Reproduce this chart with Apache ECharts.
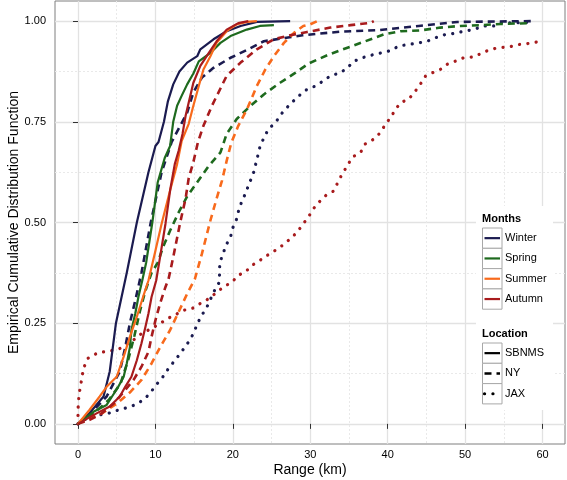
<!DOCTYPE html>
<html><head><meta charset="utf-8">
<script src="https://cdn.jsdelivr.net/npm/echarts@6/dist/echarts.min.js"></script>
<style>html,body{margin:0;padding:0;background:#fff}#c{width:567px;height:480px}</style>
</head><body><div id="c"></div>
<script>
// ---------- DATA ----------
const months = ['Winter', 'Spring', 'Summer', 'Autumn'];
const locations = ['SBNMS', 'NY', 'JAX'];
const xTicks = [0, 10, 20, 30, 40, 50, 60];
const xMinorTicks = [5, 15, 25, 35, 45, 55];
const yTicks = [0, 0.25, 0.5, 0.75, 1];
const yMinorTicks = [0.125, 0.375, 0.625, 0.875];
const yTickLabels = ['0.00', '0.25', '0.50', '0.75', '1.00'];

// [range km, ECDF]
const winterSBNMS = [[0,0],[1.5,0.027],[3.3,0.068],[4.1,0.13],[4.9,0.25],[6.3,0.375],[7.6,0.5],[9.1,0.625],[10,0.69],[10.4,0.70],[11.1,0.75],[11.6,0.80],[12.3,0.843],[13.1,0.875],[14.1,0.897],[15.4,0.913],[15.8,0.93],[17.5,0.955],[19.2,0.975],[21,0.988],[23.1,0.998],[27.4,1.0]];
const springSBNMS = [[0,0],[2,0.03],[3.7,0.047],[4.4,0.068],[5.2,0.092],[5.9,0.117],[6.3,0.15],[6.7,0.19],[6.9,0.233],[7.4,0.274],[7.8,0.315],[8.3,0.356],[8.8,0.4],[9.6,0.5],[10.3,0.6],[11.2,0.66],[11.9,0.69],[12.3,0.75],[12.8,0.79],[13.4,0.815],[14.1,0.843],[14.9,0.87],[15.6,0.9],[17.1,0.921],[18.4,0.946],[19.7,0.963],[21.8,0.979],[23.5,0.988],[25.3,0.99]];
const summerSBNMS = [[0,0],[1.5,0.035],[2.8,0.068],[3.7,0.092],[5,0.117],[5.9,0.167],[6.7,0.216],[7.6,0.266],[8.4,0.315],[9.1,0.356],[10,0.43],[10.8,0.497],[11.9,0.58],[12.8,0.645],[13.4,0.703],[14.3,0.745],[14.9,0.79],[15.6,0.839],[16.2,0.88],[17.1,0.913],[17.9,0.946],[19.2,0.975],[20.5,0.992],[21.8,0.998],[23.1,1.0]];
const autumnSBNMS = [[0,0],[2.4,0.026],[4.1,0.043],[5.4,0.068],[6.1,0.092],[6.9,0.117],[7.6,0.158],[8.2,0.2],[8.7,0.24],[9.1,0.274],[9.5,0.315],[10.1,0.356],[10.6,0.414],[11.3,0.497],[11.9,0.58],[12.5,0.645],[13,0.678],[13.5,0.72],[13.9,0.765],[14.4,0.806],[14.9,0.847],[15.8,0.889],[16.9,0.921],[17.9,0.95],[19.2,0.979],[20.7,0.995],[22,1.0]];

const winterNY = [[0,0],[1.8,0.03],[3.7,0.068],[5.4,0.13],[6.1,0.19],[6.7,0.25],[7.5,0.315],[8.2,0.375],[9.4,0.5],[10.8,0.625],[12.1,0.70],[13.2,0.74],[14.1,0.773],[14.9,0.823],[16,0.86],[17.5,0.884],[19.7,0.909],[22,0.93],[24,0.95],[29,0.965],[34,0.974],[39,0.978],[44,0.988],[49,0.998],[58.5,1.0]];
const springNY = [[0,0],[2,0.025],[4,0.06],[5.5,0.1],[6.5,0.16],[7.3,0.22],[8,0.28],[8.7,0.33],[9.5,0.375],[10.3,0.4],[11,0.44],[11.9,0.48],[13,0.525],[14.1,0.565],[15.4,0.6],[16.9,0.641],[18.4,0.674],[19.2,0.72],[20.5,0.757],[22.3,0.79],[24,0.818],[26.1,0.847],[28.1,0.872],[29.8,0.895],[32.4,0.917],[34.8,0.934],[37.1,0.95],[39.5,0.967],[41.7,0.975],[44.2,0.977],[46.8,0.984],[49.4,0.988],[52,0.99],[54.6,0.993],[58.4,0.995]];
const summerNY = [[0,0],[1.5,0.015],[3.1,0.026],[5,0.05],[6.8,0.08],[8.2,0.109],[9.5,0.15],[10.6,0.19],[11.9,0.233],[12.9,0.274],[14.1,0.323],[15.1,0.36],[16,0.422],[17.1,0.505],[17.9,0.559],[18.6,0.604],[19.2,0.653],[19.8,0.698],[20.7,0.74],[21.8,0.78],[23.1,0.839],[24.2,0.88],[25.3,0.913],[26.6,0.946],[27.9,0.971],[29.1,0.988],[30,0.992],[30.9,1.0]];
const autumnNY = [[0,0],[1.5,0.01],[3,0.025],[4.6,0.05],[6.1,0.084],[7.2,0.11],[8.2,0.142],[9.1,0.179],[9.5,0.216],[10,0.257],[10.6,0.299],[11.3,0.34],[11.7,0.36],[12.3,0.414],[13.2,0.5],[13.9,0.56],[14.3,0.61],[14.9,0.65],[15.5,0.7],[16.2,0.74],[17.3,0.79],[19.2,0.864],[21,0.897],[23.1,0.93],[25.3,0.955],[27.4,0.965],[29.6,0.973],[32.6,0.984],[35.2,0.99],[37.8,0.996],[38.2,1.0]];

const winterJAX = [[0,0],[1.5,0.018],[3.9,0.026],[5.3,0.035],[6.5,0.041],[7.6,0.049],[8.6,0.062],[9.3,0.076],[10.1,0.097],[10.9,0.115],[11.6,0.135],[12.2,0.15],[12.9,0.167],[13.6,0.185],[14.3,0.204],[14.9,0.224],[15.4,0.248],[15.9,0.267],[16.6,0.288],[17.1,0.309],[17.6,0.33],[18.2,0.35],[18.3,0.375],[18.3,0.4],[18.7,0.42],[19.1,0.443],[19.7,0.464],[20,0.487],[20.5,0.509],[20.8,0.534],[21.2,0.554],[21.7,0.575],[22.1,0.597],[22.6,0.618],[22.9,0.641],[23.2,0.664],[23.5,0.688],[24,0.71],[24.6,0.732],[25.5,0.748],[26.4,0.773],[27.4,0.794],[28.5,0.814],[29.6,0.831],[30.7,0.839],[31.7,0.852],[32.6,0.864],[33.9,0.872],[34.8,0.884],[35.6,0.9],[36.7,0.909],[38,0.916],[39.1,0.921],[40.4,0.927],[41.4,0.938],[42.7,0.942],[44,0.946],[45.1,0.95],[46.2,0.959],[47.5,0.967],[48.8,0.97],[49.8,0.975],[51.1,0.979],[52.4,0.988],[53.7,0.988],[54.6,0.996],[57.2,0.996],[58.5,0.998]];
const autumnJAX = [[0,0],[0,0.035],[0.1,0.064],[0.26,0.088],[0.5,0.113],[0.7,0.138],[1.3,0.163],[2.6,0.177],[3.9,0.18],[5.4,0.187],[6.9,0.204],[8.2,0.224],[9.5,0.237],[10.6,0.249],[11.5,0.261],[12.5,0.27],[13.6,0.282],[14.7,0.286],[15.8,0.299],[16.9,0.311],[17.7,0.323],[18.8,0.34],[19.9,0.352],[20.7,0.369],[21.6,0.377],[22.5,0.394],[23.5,0.406],[24.4,0.418],[25.5,0.431],[26.4,0.443],[27.4,0.459],[28.3,0.476],[29.1,0.497],[29.8,0.515],[30.4,0.534],[31.1,0.55],[32,0.567],[33,0.578],[34.1,0.62],[34.8,0.641],[35.4,0.662],[36.5,0.674],[37.1,0.695],[38.2,0.707],[39.1,0.724],[39.7,0.744],[40.4,0.761],[41,0.781],[41.7,0.798],[42.7,0.806],[43.6,0.827],[44.2,0.843],[44.9,0.864],[45.8,0.872],[46.8,0.88],[47.7,0.893],[48.8,0.901],[49.8,0.909],[51.1,0.911],[52.2,0.921],[53.3,0.93],[54.4,0.934],[55.7,0.936],[57,0.942],[58,0.944],[59.2,0.948]];

// ---------- STYLE ----------
const FONT = '"Liberation Sans", Arial, Helvetica, sans-serif';
const monthColor = { Winter: '#1b1b50', Spring: '#1e6a1e', Summer: '#f86a1c', Autumn: '#a81b1d' };
const locStyle = {
  SBNMS: { type: 'solid', width: 2.2 },
  NY: { type: [7, 5], width: 2.6 },
  JAX: { type: [0.1, 8.3], width: 3.2, cap: 'round' }
};

const curves = [
  ['Winter', 'JAX', winterJAX], ['Autumn', 'JAX', autumnJAX],
  ['Winter', 'NY', winterNY], ['Spring', 'NY', springNY], ['Summer', 'NY', summerNY], ['Autumn', 'NY', autumnNY],
  ['Winter', 'SBNMS', winterSBNMS], ['Spring', 'SBNMS', springSBNMS], ['Summer', 'SBNMS', summerSBNMS], ['Autumn', 'SBNMS', autumnSBNMS]
];

const series = curves.map(([m, l, d]) => ({
  name: m + ' ' + l, type: 'line', data: d, symbol: 'none', showSymbol: false,
  xAxisIndex: 0, yAxisIndex: 0, z: 2, silent: true,
  lineStyle: Object.assign({ color: monthColor[m], join: 'round' }, locStyle[l])
}));

const gridMajor = { show: true, lineStyle: { color: '#e2e2e2', width: 1.3 } };
const gridMinor = { show: true, lineStyle: { color: '#e9e9e9', width: 1, type: [2, 2] } };

// ---------- LEGEND (drawn as graphics) ----------
const keyX = 482.5, keyW = 19.5, keyH = 20.3, monthsTop = 228, locTop = 343;
const dashOf = t => t === 'solid' ? null : t;
const graphics = [
  { type: 'rect', shape: { x: 476, y: 206, width: 77, height: 204 }, style: { fill: '#fff' }, z: 3 },
  { type: 'text', x: 482, y: 219, style: { text: 'Months', font: 'bold 11px ' + FONT, fill: '#000', verticalAlign: 'middle' }, z: 6 },
  { type: 'text', x: 482, y: 334, style: { text: 'Location', font: 'bold 11px ' + FONT, fill: '#000', verticalAlign: 'middle' }, z: 6 }
];
function addKey(top, i, label, color, ls) {
  const y = top + i * keyH;
  graphics.push({ type: 'rect', shape: { x: keyX, y: y, width: keyW, height: keyH },
    style: { fill: '#fff', stroke: '#a8a8a8', lineWidth: 1 }, z: 4 });
  graphics.push({ type: 'line', shape: { x1: keyX + 2, y1: y + keyH / 2, x2: keyX + keyW - 2, y2: y + keyH / 2 },
    style: { stroke: color, lineWidth: ls.width, lineDash: dashOf(ls.type), lineCap: ls.cap || 'butt' }, z: 5 });
  graphics.push({ type: 'text', x: keyX + keyW + 3, y: y + keyH / 2,
    style: { text: label, font: '11px ' + FONT, fill: '#000', verticalAlign: 'middle' }, z: 6 });
}
months.forEach((m, i) => addKey(monthsTop, i, m, monthColor[m], { type: 'solid', width: 2.2 }));
locations.forEach((l, i) => addKey(locTop, i, l, '#000', locStyle[l]));

const option = {
  animation: false,
  backgroundColor: '#fff',
  textStyle: { fontFamily: FONT },
  grid: { left: 55, right: 2, top: 1, bottom: 36, show: true, borderColor: '#7f7f7f', borderWidth: 1,
    backgroundColor: '#fff', containLabel: false, outerBoundsMode: 'none' },
  xAxis: [
    { type: 'value', min: -2.97, max: 62.9, position: 'bottom',
      name: 'Range (km)', nameLocation: 'middle', nameGap: 19, nameMoveOverlap: false,
      nameTextStyle: { fontFamily: FONT, fontSize: 14, color: '#000' },
      axisLine: { show: false },
      axisTick: { show: true, length: 5, lineStyle: { color: '#333', width: 1 }, customValues: xTicks },
      axisLabel: { customValues: xTicks, fontFamily: FONT, fontSize: 11, color: '#000', margin: 5 },
      splitLine: gridMajor },
    { type: 'value', min: -2.97, max: 62.9, position: 'top', show: true,
      axisLine: { show: false }, axisLabel: { show: false },
      axisTick: { show: false, customValues: xMinorTicks }, splitLine: gridMinor }
  ],
  yAxis: [
    { type: 'value', min: -0.05, max: 1.05, position: 'left',
      name: 'Empirical Cumulative Distribution Function', nameLocation: 'middle', nameGap: 34, nameMoveOverlap: false,
      nameTextStyle: { fontFamily: FONT, fontSize: 14, color: '#000' },
      axisLine: { show: false },
      axisTick: { show: true, length: 5, lineStyle: { color: '#333', width: 1 }, customValues: yTicks },
      axisLabel: { customValues: yTicks, fontFamily: FONT, fontSize: 11, color: '#000', margin: 9,
        formatter: v => yTickLabels[yTicks.indexOf(v)] ?? v.toFixed(2) },
      splitLine: gridMajor },
    { type: 'value', min: -0.05, max: 1.05, position: 'right', show: true,
      axisLine: { show: false }, axisLabel: { show: false },
      axisTick: { show: false, customValues: yMinorTicks }, splitLine: gridMinor }
  ],
  graphic: { elements: graphics },
  series: series
};

const chart = echarts.init(document.getElementById('c'), null, { renderer: 'canvas', width: 567, height: 480 });
chart.setOption(option);
</script>
</body></html>
